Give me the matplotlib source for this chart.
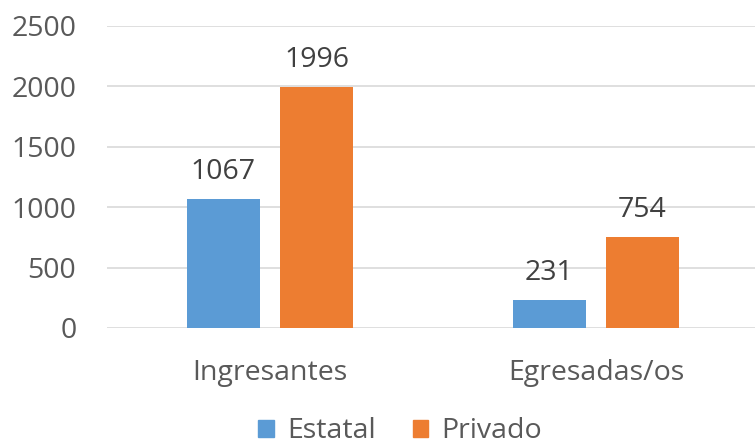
import numpy as np
import matplotlib.pyplot as plt
from matplotlib.patches import Patch

categories = ['Ingresantes', 'Egresadas/os']
estatal = [1067, 231]
privado = [1996, 754]
series_names = ['Estatal', 'Privado']
colors = ['#5B9BD5', '#ED7D31']

plt.rcParams['font.family'] = ['Open Sans', 'DejaVu Sans']

fig = plt.figure(figsize=(7.55, 4.45), dpi=100)
ax = fig.add_axes([0.1417, 0.263, 0.8636, 0.6786])

x = np.arange(len(categories))
w = 0.224
off = 0.143
b1 = ax.bar(x - off, estatal, w, color=colors[0], zorder=3)
b2 = ax.bar(x + off, privado, w, color=colors[1], zorder=3)

for bars in (b1, b2):
    for r in bars:
        ax.text(r.get_x() + r.get_width() / 2, r.get_height() + 110, str(int(r.get_height())),
                ha='center', va='bottom', fontsize=20.5, color='#404040')

ax.set_xlim(-0.5, 1.5)
ax.set_ylim(0, 2500)
ax.set_yticks(range(0, 2501, 500))
ax.set_xticks(x)
ax.set_xticklabels(categories)
ax.tick_params(axis='both', length=0, labelsize=20.5, labelcolor='#595959')
ax.tick_params(axis='y', pad=22)
ax.tick_params(axis='x', pad=22)
ax.grid(axis='y', color='#D9D9D9', linewidth=1.2, zorder=0)
for s in ax.spines.values():
    s.set_visible(False)

handles = [Patch(color=c) for c in colors]
fig.legend(handles, series_names, loc='lower center', bbox_to_anchor=(0.53, -0.058), ncol=2,
           frameon=False, fontsize=20.5, labelcolor='#595959', handlelength=0.55, handleheight=0.55,
           handletextpad=0.45, columnspacing=1.3)

fig.savefig('out.png', dpi=100)
